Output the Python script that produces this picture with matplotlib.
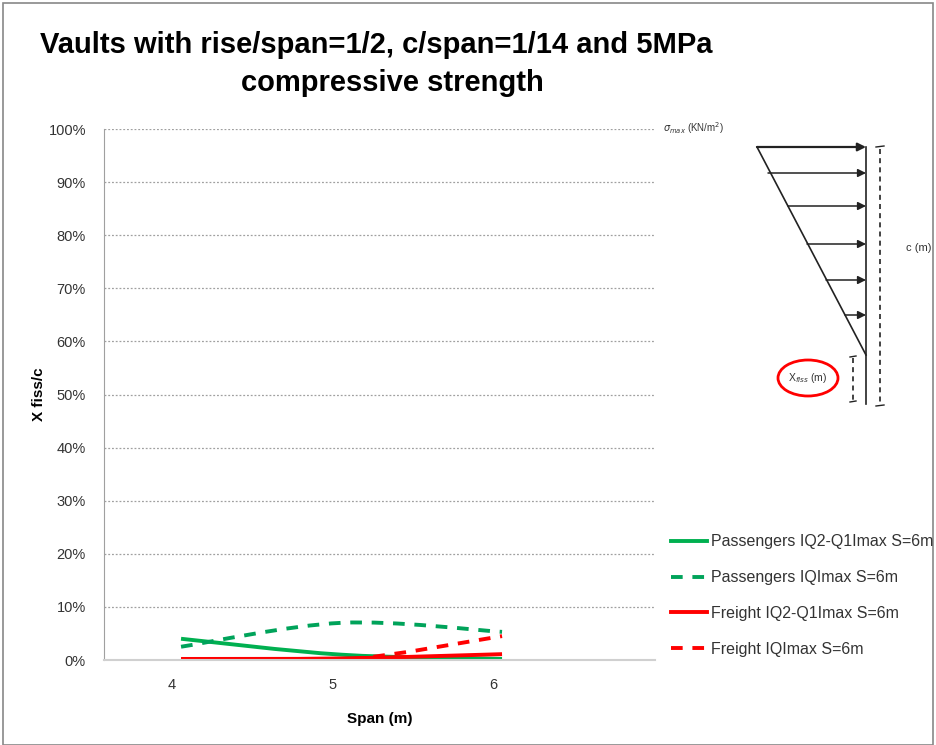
import numpy as np
import matplotlib
matplotlib.use("Agg")
import matplotlib.pyplot as plt
import matplotlib.transforms as mtransforms
from matplotlib.path import Path
from matplotlib.patches import PathPatch, Ellipse, Rectangle
from matplotlib.lines import Line2D

plt.rcParams['font.family'] = ['Liberation Sans Narrow', 'Liberation Sans', 'DejaVu Sans']

# data
span = [4, 5, 6]
pass_q2q1 = [4.0, 1.0, 0.2]
pass_iq = [2.5, 7.0, 5.3]
freight_q2q1 = [0.2, 0.3, 1.1]
freight_iq = [0.0, 0.0, 4.5]
yticks = [0, 10, 20, 30, 40, 50, 60, 70, 80, 90, 100]
labels = ["Passengers IQ2-Q1Imax S=6m", "Passengers IQImax S=6m",
          "Freight IQ2-Q1Imax S=6m", "Freight IQImax S=6m"]

green = "#00B050"
green2 = "#00A35A"
red = "#FF0000"


def smooth_path(xs, ys):
    # Excel-like smoothed line: cubic bezier through the points
    p = np.column_stack([xs, ys]).astype(float)
    n = len(p)
    verts = [p[0]]
    codes = [Path.MOVETO]
    for i in range(n - 1):
        prev = p[i - 1] if i > 0 else p[i]
        nxt = p[i + 2] if i + 2 < n else p[i + 1]
        c1 = p[i] + (p[i + 1] - prev) / 6
        c2 = p[i + 1] - (nxt - p[i]) / 6
        verts += [c1, c2, p[i + 1]]
        codes += [Path.CURVE4] * 3
    return Path(verts, codes)


W, H = 937, 745
fig = plt.figure(figsize=(W / 100, H / 100), dpi=100)
fig.patch.set_facecolor("white")

ax = fig.add_axes([104 / W, 1 - 660 / H, (655 - 104) / W, (660 - 129) / H])
ax.set_xlim(3.52, 6.953)
ax.set_ylim(0, 100)
ax.set_yticks(yticks)
ax.set_yticklabels([f"{v}%" for v in yticks], fontsize=10.5, color="#333333")
ax.set_xticks(span)
ax.set_xticklabels([str(s) for s in span], fontsize=10.5, color="#333333")
ax.tick_params(axis="y", length=0, pad=13)
ax.tick_params(axis="x", length=0, pad=13)
shift = mtransforms.ScaledTranslation(-0.09, 0, fig.dpi_scale_trans)
for t in ax.get_xticklabels():
    t.set_transform(t.get_transform() + shift)
ax.grid(axis="y", color="#A0A0A0", linestyle=(0, (1.5, 1.5)), linewidth=0.9)
for s in ["top", "right"]:
    ax.spines[s].set_visible(False)
ax.spines["left"].set_color("#A0A0A0")
ax.spines["bottom"].set_color("#D0D0D0")
ax.spines["bottom"].set_linewidth(1.5)

styles = [
    (pass_q2q1, green, "-"),
    (pass_iq, green2, (0, (3, 2.5))),
    (freight_q2q1, red, "-"),
    (freight_iq, red, (0, (3, 2.5))),
]
handles = []
for (vals, col, ls), lab in zip(styles, labels):
    patch = PathPatch(smooth_path(span, vals), facecolor="none", edgecolor=col,
                      linestyle=ls, linewidth=2.8, capstyle="butt", clip_on=True)
    ax.add_patch(patch)
    handles.append(Line2D([], [], color=col, linestyle=ls, linewidth=2.8))

ax.set_xlabel("Span (m)", fontsize=11, fontweight="bold", labelpad=14)
ax.set_ylabel("X fiss/c", fontsize=11, fontweight="bold")
ax.yaxis.set_label_coords(-0.105, 0.5)

leg = fig.legend(handles, labels, loc="upper left", bbox_to_anchor=(665 / W, 1 - 528 / H),
                 frameon=False, fontsize=11.5, handlelength=2.2, labelspacing=1.3,
                 handletextpad=0.3, borderaxespad=0, borderpad=0.4)
for t in leg.get_texts():
    t.set_color("#333333")

fig.text(376 / W, 1 - 45 / H, "Vaults with rise/span=1/2, c/span=1/14 and 5MPa",
         ha="center", va="center", fontsize=21, fontweight="bold")
fig.text(392 / W, 1 - 83 / H, "compressive strength",
         ha="center", va="center", fontsize=21, fontweight="bold")

# stress diagram sketch, drawn in pixel coordinates
d = fig.add_axes([0, 0, 1, 1], zorder=5)
d.set_xlim(0, W)
d.set_ylim(H, 0)
d.axis("off")
d.patch.set_visible(False)
d.plot([866, 866], [147, 404], color="#222222", lw=1.2)
d.plot([757, 866], [147, 355], color="#222222", lw=1.2)
for x0, y0 in [(757, 147), (768, 173), (788, 206), (807, 244), (826, 280), (845, 315)]:
    d.annotate("", xy=(866, y0), xytext=(x0, y0),
               arrowprops=dict(arrowstyle="-|>", color="#222222", lw=1.1 if y0 > 150 else 1.6,
                               mutation_scale=12, shrinkA=0, shrinkB=0))
d.plot([880, 880], [149, 404], color="#222222", lw=1.2, ls=(0, (3, 2.5)))
d.plot([876, 884], [147, 146], color="#222222", lw=1)
d.plot([876, 884], [406, 405], color="#222222", lw=1)
d.plot([853, 853], [358, 400], color="#222222", lw=1.2, ls=(0, (3, 2.5)))
d.plot([850, 856], [357, 356], color="#222222", lw=1)
d.plot([850, 856], [402, 401], color="#222222", lw=1)
d.text(663, 128, r"$\sigma_{max}$ (KN/m$^2$)", fontsize=7, va="center", color="#333333")
d.text(906, 248, "c (m)", fontsize=8, va="center", color="#333333")
d.text(808, 378, r"X$_{fiss}$ (m)", fontsize=7.5, ha="center", va="center", color="#333333")
d.add_patch(Ellipse((808, 378), 60, 36, fill=False, edgecolor=red, lw=2))

# outer frame
fig.add_artist(Rectangle((3 / W, 0), 930 / W, 1 - 3 / H, transform=fig.transFigure,
                         fill=False, edgecolor="#888888", lw=1.2))

fig.savefig("out.png", dpi=100)
